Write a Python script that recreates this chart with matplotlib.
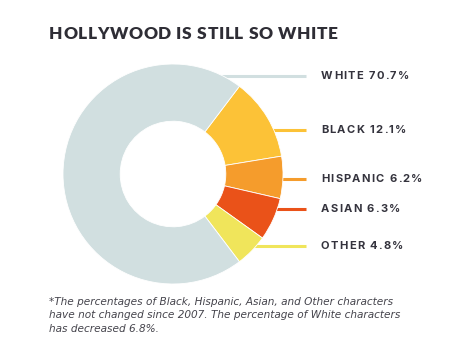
import matplotlib
matplotlib.use('Agg')
import matplotlib.pyplot as plt
from matplotlib.font_manager import FontProperties

# --- data ---
groups = ['WHITE', 'BLACK', 'HISPANIC', 'ASIAN', 'OTHER']
shares = [70.7, 12.1, 6.2, 6.3, 4.8]
colors = ['#d1dfe0', '#fcc237', '#f59c2c', '#ea5219', '#f0e55b']

title = 'HOLLYWOOD IS STILL SO WHITE'
note = ('*The percentages of Black, Hispanic, Asian, and Other characters\n'
        'have not changed since 2007. The percentage of White characters\n'
        'has decreased 6.8%.')

# --- layout (pixels, origin top-left) ---
W, H = 474, 360
cx, cy, r_out = 173, 174, 110
ring = 0.52
label_y = [76, 130, 179, 209, 246]
line_x0 = [220, 272, 282, 276, 254]
line_x1 = 306
text_x = 321

fig = plt.figure(figsize=(W / 100, H / 100), dpi=100)
ax = fig.add_axes([0, 0, 1, 1])
renderer = fig.canvas.get_renderer()


def tracked_text(x, y, s, track, size, family='Lato', weight='bold', color='#34333d'):
    """Draw caps text with extra letter spacing (track in px)."""
    prop = FontProperties(family=family, weight=weight, size=size)
    bar = renderer.get_text_width_height_descent('|', prop, ismath=False)[0]
    for i, ch in enumerate(s):
        if ch == ' ':
            continue
        pre = renderer.get_text_width_height_descent(s[:i] + '|', prop, ismath=False)[0] - bar
        ax.text(x + pre + i * track, y, ch, fontproperties=prop, color=color,
                va='center', ha='left')


# leader lines behind the ring
for y, x0, c in zip(label_y, line_x0, colors):
    ax.plot([x0, line_x1], [H - y, H - y], color=c, lw=2.2, solid_capstyle='butt', zorder=1)

# ring runs clockwise, minorities first, centred on the 3 o'clock direction
order = [1, 2, 3, 4, 0]
wedge_vals = [shares[i] for i in order]
wedge_cols = [colors[i] for i in order]
start = sum(shares[1:]) / sum(shares) * 360 / 2
ax.pie(wedge_vals, colors=wedge_cols, startangle=start, counterclock=False,
       center=(cx, H - cy), radius=r_out,
       wedgeprops=dict(width=r_out * ring, edgecolor='white', linewidth=0.6),
       frame=True)
ax.set_xlim(0, W)
ax.set_ylim(0, H)
ax.set_aspect('equal')
ax.axis('off')

for g, s, y in zip(groups, shares, label_y):
    tracked_text(text_x, H - y, f'{g} {s}%', 1.3, 8.0, family='Inter')

tracked_text(49, H - 34, title, 0.6, 12.4, weight='heavy', color='#2e2d35')

ax.text(49, H - 297, note, fontsize=7.6, style='italic', family='DejaVu Sans',
        color='#45444c', va='top', ha='left', linespacing=1.42)

fig.savefig('out.png', dpi=100)
